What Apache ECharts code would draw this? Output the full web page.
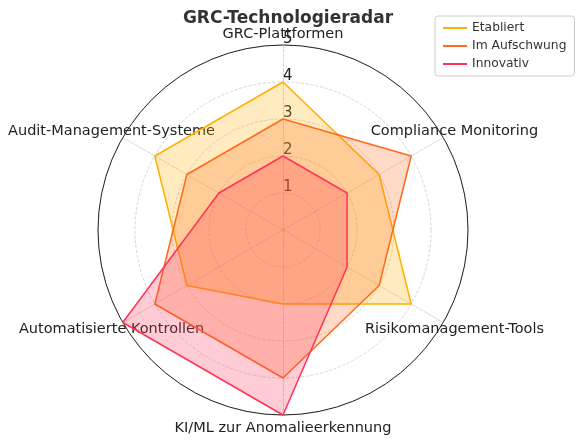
<!DOCTYPE html>
<html>
<head>
<meta charset="utf-8">
<script src="https://cdn.jsdelivr.net/npm/echarts@6/dist/echarts.min.js"></script>
<style>html,body{margin:0;padding:0;background:#fff}#c{width:580px;height:443px}</style>
</head>
<body>
<div id="c"></div>
<script>
// Indicators listed counter-clockwise from the top (ECharts radar order)
const categories = ['GRC-Plattformen', 'Audit-Management-Systeme', 'Automatisierte Kontrollen', 'KI/ML zur Anomalieerkennung', 'Risikomanagement-Tools', 'Compliance Monitoring'];
const seriesNames = ['Etabliert', 'Im Aufschwung', 'Innovativ'];
const etabliert = [4, 4, 3, 2, 4, 3];
const imAufschwung = [3, 3, 4, 4, 3, 4];
const innovativ = [2, 2, 5, 5, 2, 2];
const tickLabels = ['', '1', '2', '3', '4', '5'];
const maxValue = 5;

const colors = ['#FFB000', '#FF6A1C', '#FF3358'];
const font = 'DejaVu Sans';

const chart = echarts.init(document.getElementById('c'), null, {renderer: 'canvas'});
const indicators = categories.map((c, i) => {
  const o = {name: c, min: 0, max: maxValue};
  if (i === 0) {
    o.nameMoveOverlap = false;
    o.nameGap = 11;
    o.axisLabel = {
      show: true, fontFamily: font, fontSize: 15, color: '#222',
      formatter: v => tickLabels[v] || '', margin: 0,
      align: 'left', verticalAlign: 'bottom', lineHeight: 11
    };
  }
  return o;
});
const common = {center: [283, 230], radius: 185, shape: 'circle', startAngle: 90};
const option = {
  animation: false,
  title: {
    text: 'GRC-Technologieradar', left: 283, top: 5, textAlign: 'center',
    textStyle: {fontFamily: font, fontSize: 17, fontWeight: 'bold', color: '#333'}
  },
  legend: {
    data: seriesNames, orient: 'vertical', left: 435, top: 16,
    icon: 'rect', itemWidth: 24, itemHeight: 2, itemGap: 6,
    padding: [6, 8, 6, 8], borderColor: '#ccc', borderWidth: 1, borderRadius: 3,
    textStyle: {fontFamily: font, fontSize: 12.3, color: '#333'}
  },
  radar: [
    Object.assign({}, common, {
      indicator: indicators,
      splitNumber: 5,
      axisName: {fontFamily: font, fontSize: 14.5, color: '#222', align: 'center', verticalAlign: 'middle'},
      nameGap: 13,
      axisLine: {lineStyle: {color: '#ccc', type: 'dashed', width: 0.8}},
      splitLine: {lineStyle: {color: '#ccc', type: 'dashed', width: 0.8}},
      splitArea: {show: false}
    }),
    Object.assign({}, common, {
      indicator: categories.map(c => ({name: '', min: 0, max: maxValue})),
      splitNumber: 1,
      axisName: {show: false},
      axisLine: {show: false},
      splitLine: {lineStyle: {color: '#222', width: 1}},
      splitArea: {show: false},
      silent: true
    })
  ],
  series: [{
    type: 'radar', radarIndex: 0, symbol: 'none',
    data: [etabliert, imAufschwung, innovativ].map((d, i) => ({
      name: seriesNames[i], value: d,
      lineStyle: {color: colors[i], width: 1.5},
      itemStyle: {color: colors[i]},
      areaStyle: {color: colors[i], opacity: 0.25}
    }))
  }]
};
chart.setOption(option);
</script>
</body>
</html>
